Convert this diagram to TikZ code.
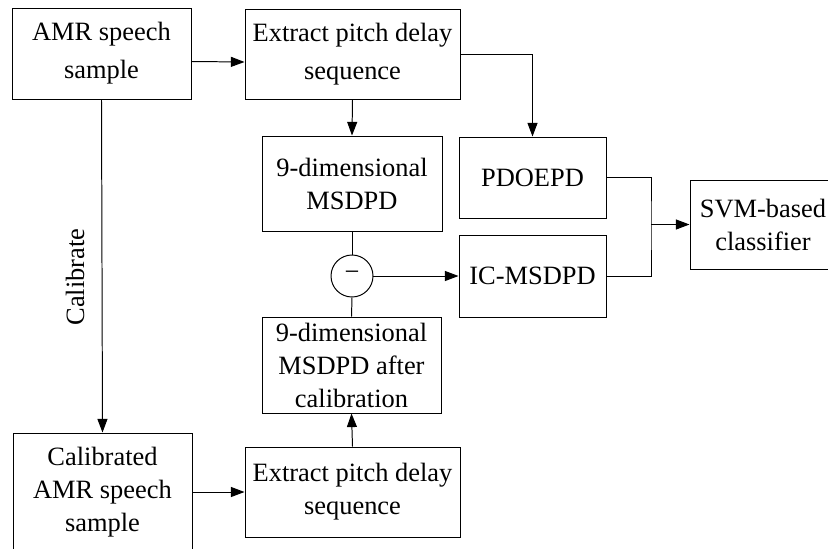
\documentclass[tikz,border=0pt]{standalone}
\usepackage{fontspec}
\setmainfont{Liberation Serif}
\usetikzlibrary{arrows.meta, positioning, calc}

\tikzset{
  blockbox/.style={draw, line width=0.7pt, align=center, inner sep=0pt,
    font=\fontsize{18.8}{23.5}\selectfont},
  toprow/.style={font=\fontsize{18.8}{27}\selectfont},
  flow/.style={line width=0.7pt, -{Triangle[length=0.34cm, width=0.25cm]}},
  link/.style={line width=0.7pt},
}

\begin{document}
\begin{tikzpicture}
  \useasboundingbox (0, 0) rectangle (20.7, 13.7);

  % Top row
  \node[blockbox, toprow, minimum width=4.475cm, minimum height=2.275cm] (amr) at (2.5375, 12.3625) {AMR speech\\sample};
  \node[blockbox, toprow, minimum width=5.375cm, minimum height=2.25cm] (ext1) at (8.8125, 12.35) {Extract pitch delay\\sequence};

  % Middle column
  \node[blockbox, minimum width=4.5cm, minimum height=2.375cm] (msdpd) at (8.8, 9.1125) {9-dimensional\\MSDPD};
  \node[draw, circle, line width=0.7pt, minimum size=1.05cm, inner sep=0pt,
    font=\fontsize{18.8}{23.5}\selectfont] (minus) at (8.8, 6.8) {−};
  \node[blockbox, minimum width=4.475cm, minimum height=2.4cm] (after) at (8.7875, 4.575) {9-dimensional\\MSDPD after\\calibration};

  % Features and classifier
  \node[blockbox, minimum width=3.675cm, minimum height=2.025cm] (pdoepd) at (13.3125, 9.2625) {PDOEPD};
  \node[blockbox, minimum width=3.675cm, minimum height=2.05cm] (icm) at (13.3125, 6.8) {IC-MSDPD};
  \node[blockbox, minimum width=3.65cm, minimum height=2.225cm] (svm) at (19.075, 8.0875) {SVM-based\\classifier};

  % Bottom row
  \node[blockbox, minimum width=4.475cm, minimum height=2.95cm] (cal) at (2.5625, 1.4) {Calibrated\\AMR speech\\sample};
  \node[blockbox, minimum width=5.375cm, minimum height=2.25cm] (ext2) at (8.8125, 1.4) {Extract pitch delay\\sequence};

  % Connectors
  \draw[flow] ([yshift=-0.2cm]amr.east) -- ([yshift=-0.2cm]ext1.west);
  \draw[flow] (ext1.south) -- (msdpd.north);
  \draw[flow] (ext1.east) -| (pdoepd.north);
  \draw[link] (msdpd.south) -- (minus.north);
  \draw[link] (after.north) -- (minus.south);
  \draw[flow] (minus.east) -- (icm.west);
  \draw[flow] (ext2.north) -- (after.south);
  \draw[flow] (cal.east) -- (ext2.west);

  \coordinate (join) at (16.275, 8.0875);
  \draw[link] (pdoepd.east) -| (join) |- (icm.east);
  \draw[flow] (join) -- (svm.west);

  % Calibration path
  \draw[flow] (amr.south) -- (cal.north);
  \node[rotate=90, font=\fontsize{18.8}{23.5}\selectfont] (callabel) at (1.875, 6.775) {Calibrate};
\end{tikzpicture}
\end{document}
